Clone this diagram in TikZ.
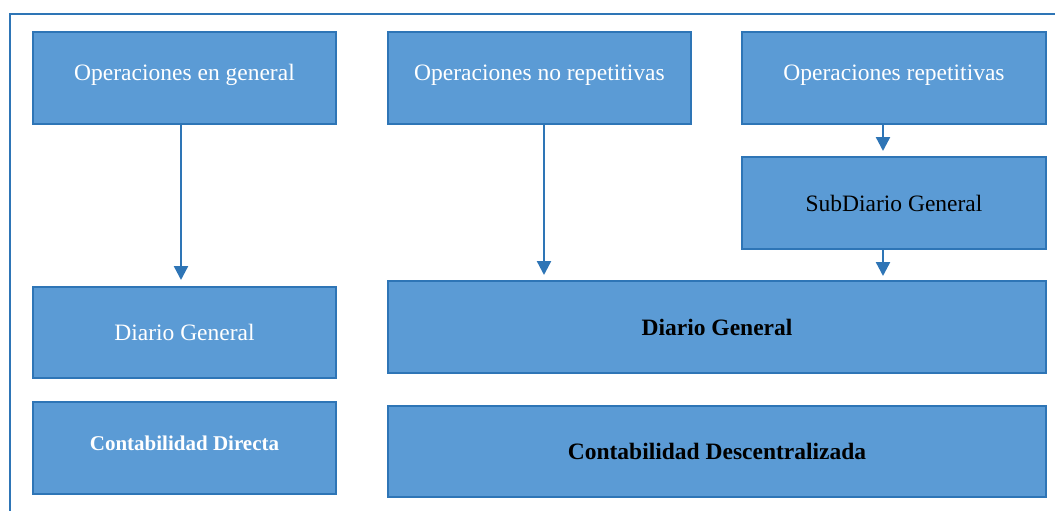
\documentclass[tikz,border=0pt]{standalone}
\usepackage{fontspec}
\setmainfont{Liberation Serif}
\usetikzlibrary{arrows.meta}
\definecolor{boxfill}{HTML}{5B9BD5}
\definecolor{boxline}{HTML}{2E75B6}
\tikzset{
  box/.style={draw=boxline, fill=boxfill, line width=2.8pt, rectangle, inner sep=0pt, align=center, font=\fontsize{23.5}{26}\selectfont},
  wtext/.style={text=white},
  btext/.style={text=black},
  arr/.style={draw=boxline, line width=2.4pt, -{Triangle[width=14pt,length=14pt]}},
  frame/.style={draw=boxline, line width=2.6pt}
}
\begin{document}
\begin{tikzpicture}[x=1pt,y=-1pt]
\useasboundingbox (0,0) rectangle (1055,511);
\coordinate (f1) at (10,512);
\coordinate (f2) at (10,14);
\coordinate (f3) at (1056,14);
\draw[frame] (f1) -- (f2) -- (f3);
\node[box,wtext,minimum width=303pt,minimum height=92pt] (b1) at (184.5,78) {\raisebox{11pt}{Operaciones en general}};
\node[box,wtext,minimum width=303pt,minimum height=92pt] (b2) at (539.5,78) {\raisebox{11pt}{Operaciones no repetitivas}};
\node[box,wtext,minimum width=304pt,minimum height=92pt] (b3) at (894,78) {\raisebox{11pt}{Operaciones repetitivas}};
\node[box,btext,minimum width=304pt,minimum height=92pt] (sub) at (894,203) {SubDiario General};
\node[box,wtext,minimum width=303pt,minimum height=91pt] (dgl) at (184.5,332.5) {Diario General};
\node[box,btext,minimum width=658pt,minimum height=92pt,font=\fontsize{23.5}{26}\selectfont\bfseries] (dgb) at (717,327) {Diario General};
\node[box,wtext,minimum width=303pt,minimum height=92pt,font=\fontsize{21}{24}\selectfont\bfseries] (cd) at (184.5,448) {\raisebox{10pt}{Contabilidad Directa}};
\node[box,btext,minimum width=658pt,minimum height=91pt,font=\fontsize{23.5}{26}\selectfont\bfseries] (cdesc) at (717,451.5) {Contabilidad Descentralizada};
\coordinate (a1) at (181,280);
\coordinate (a2) at (544,275);
\coordinate (a3) at (883,151);
\coordinate (a4) at (883,276);
\draw[arr] (a1 |- b1.south) -- (a1);
\draw[arr] (a2 |- b2.south) -- (a2);
\draw[arr] (a3 |- b3.south) -- (a3);
\draw[arr] (a4 |- sub.south) -- (a4);
\end{tikzpicture}
\end{document}
